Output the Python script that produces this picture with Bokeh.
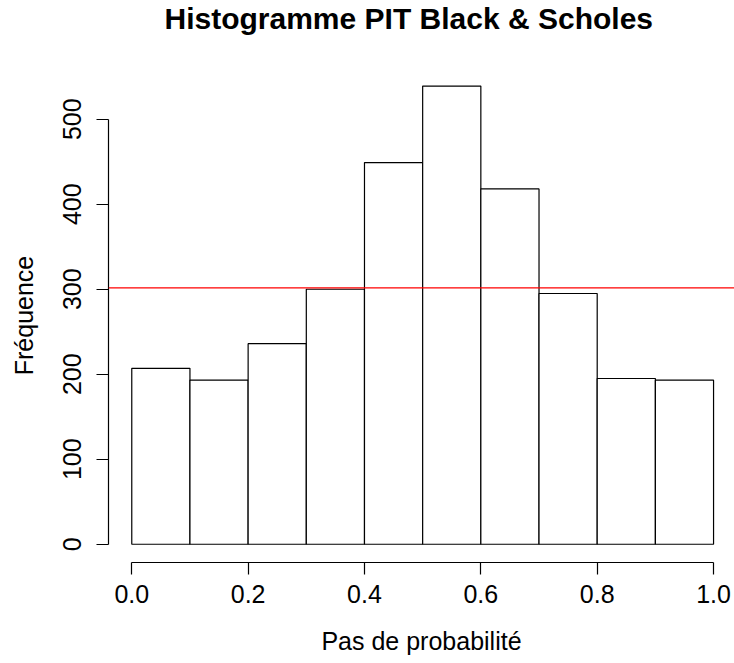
from bokeh.plotting import figure
from bokeh.models import Range1d, FixedTicker, Span, NumeralTickFormatter, Title
from bokeh.embed import file_html
from bokeh.resources import INLINE

# Data
bin_left = [0.0, 0.1, 0.2, 0.3, 0.4, 0.5, 0.6, 0.7, 0.8, 0.9]
bin_right = [0.1, 0.2, 0.3, 0.4, 0.5, 0.6, 0.7, 0.8, 0.9, 1.0]
counts = [207, 193, 236, 300, 449, 539, 418, 295, 195, 193]
expected = 301.5
x_ticks = [0.0, 0.2, 0.4, 0.6, 0.8, 1.0]
y_ticks = [0, 100, 200, 300, 400, 500]
title_text = "Histogramme PIT Black & Scholes"
x_label = "Pas de probabilité"
y_label = "Fréquence"

FONT = "Liberation Sans"

p = figure(width=734, height=663, output_backend="svg", toolbar_location=None,
           x_range=Range1d(-0.04, 1.036), y_range=Range1d(-21.5, 559.7),
           min_border_left=108, min_border_right=0, min_border_top=68, min_border_bottom=101)
p.title = None
t = Title(text=title_text, align="left", offset=56, text_font=FONT, text_font_size="30px",
          text_font_style="bold", text_color="black", standoff=0, vertical_align="top",
          padding=dict(left=0, right=0, top=0, bottom=32))
p.add_layout(t, "above")

p.outline_line_color = None
p.xgrid.visible = False
p.ygrid.visible = False
p.background_fill_color = "white"
p.border_fill_color = "white"

p.quad(left=bin_left, right=bin_right, bottom=0, top=counts,
       fill_color="white", line_color="black", line_width=1.2)

p.add_layout(Span(location=expected, dimension="width", line_color="#ff0000", line_width=1.2))

for ax in (p.xaxis[0], p.yaxis[0]):
    ax.axis_line_color = "black"
    ax.axis_line_width = 1.2
    ax.major_tick_line_color = "black"
    ax.major_tick_line_width = 1.2
    ax.major_tick_out = 12
    ax.major_tick_in = 0
    ax.minor_tick_line_color = None
    ax.major_label_text_font = FONT
    ax.major_label_text_font_size = "25px"
    ax.major_label_text_color = "black"
    ax.axis_label_text_font = FONT
    ax.axis_label_text_font_size = "25px"
    ax.axis_label_text_font_style = "normal"
    ax.axis_label_text_color = "black"

p.xaxis[0].ticker = FixedTicker(ticks=x_ticks)
p.xaxis[0].formatter = NumeralTickFormatter(format="0.0")
p.xaxis[0].bounds = (x_ticks[0], x_ticks[-1])
p.xaxis[0].axis_label = x_label
p.xaxis[0].major_label_standoff = 10
p.xaxis[0].axis_label_standoff = 21

p.yaxis[0].ticker = FixedTicker(ticks=y_ticks)
p.yaxis[0].bounds = (y_ticks[0], y_ticks[-1])
p.yaxis[0].axis_label = y_label
p.yaxis[0].major_label_orientation = "vertical"
p.yaxis[0].major_label_standoff = 15
p.yaxis[0].axis_label_standoff = 23

open("out.html", "w").write(file_html(p, INLINE))
